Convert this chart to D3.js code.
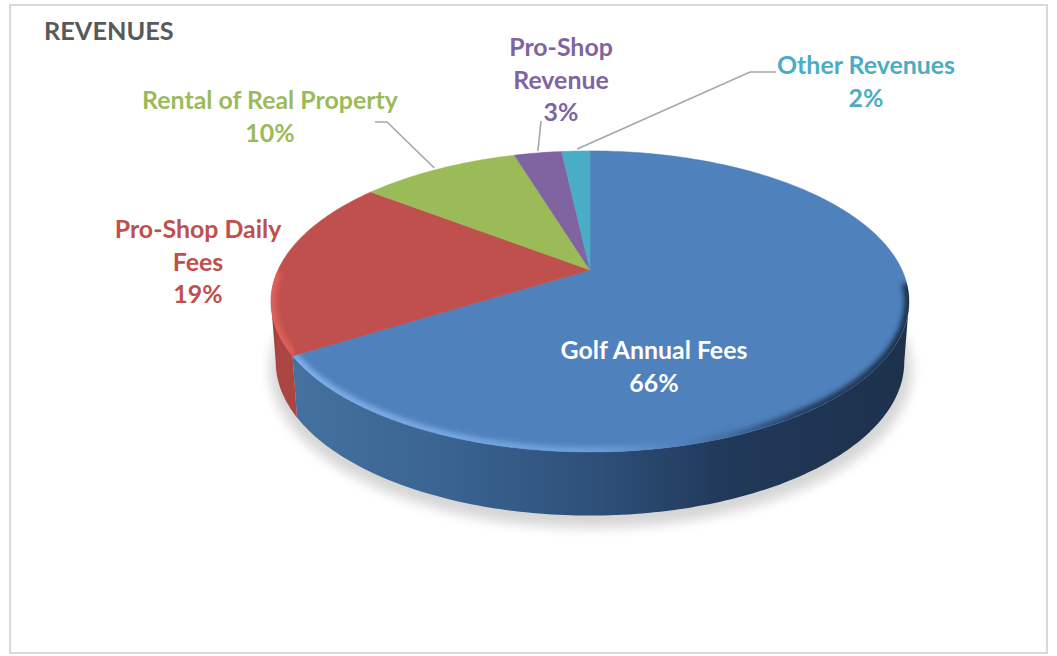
<!DOCTYPE html>
<html>
<head>
<meta charset="utf-8">
<script src="https://cdnjs.cloudflare.com/ajax/libs/d3/7.8.5/d3.min.js"></script>
<style>
  html, body { margin: 0; padding: 0; background: #fff; }
  svg { display: block; }
  text { font-family: Lato, "Open Sans", sans-serif; font-weight: 700; }
</style>
</head>
<body>
<div id="chart"></div>
<script>
// values
var categories = ['Golf Annual Fees', 'Pro-Shop Daily Fees', 'Rental of Real Property', 'Pro-Shop Revenue', 'Other Revenues'];
var values = [66.1, 19.35, 9.85, 2.95, 1.75];
var percentLabels = ['66%', '19%', '10%', '3%', '2%'];
var labelLines = [['Golf Annual Fees'], ['Pro-Shop Daily', 'Fees'], ['Rental of Real Property'], ['Pro-Shop', 'Revenue'], ['Other Revenues']];
var colors = ['#4f81bd', '#c0504d', '#9bbb59', '#8064a2', '#4bacc6'];
var labelColors = ['#ffffff', '#c0504d', '#9bbb59', '#8064a2', '#4bacc6'];

var width = 1057;
var height = 656;

var svg = d3.select('#chart').append('svg')
  .attr('width', width)
  .attr('height', height);

var defs = svg.append('defs');

// horizontal gradients for the side wall and the bevel
function hGradient(id, x1, x2, stops) {
  var g = defs.append('linearGradient').attr('id', id)
    .attr('gradientUnits', 'userSpaceOnUse')
    .attr('x1', x1).attr('x2', x2).attr('y1', 0).attr('y2', 0);
  stops.forEach(function(s) {
    g.append('stop').attr('offset', s[0]).attr('stop-color', s[1]);
  });
}
hGradient('wall0', 298, 905, [[0, '#44719f'], [0.25, '#3a6391'], [0.5, '#2d4f78'], [0.7, '#21395a'], [1, '#1d314c']]);
hGradient('wall1', 272, 300, [[0, '#9c3f3c'], [0.25, '#ad4643'], [1, '#a94542']]);
hGradient('bevel0', 298, 908, [[0, '#7fb0ea'], [0.5, '#6c9ed8'], [0.63, '#4f81bd'], [0.72, '#3f689c'], [0.82, '#243d5f'], [1, '#1d314c']]);
hGradient('bevel1', 270, 300, [[0, '#e0605a'], [1, '#dd5e58']]);

defs.append('filter').attr('id', 'soft').attr('x', '-10%').attr('y', '-10%').attr('width', '120%').attr('height', '120%')
  .append('feGaussianBlur').attr('stdDeviation', 2.5);
defs.append('filter').attr('id', 'shadow').attr('x', '-10%').attr('y', '-20%').attr('width', '120%').attr('height', '140%')
  .append('feGaussianBlur').attr('stdDeviation', 6);

// tilted disc: a pie angle goes through a perspective map, so the hub sits above the ellipse middle
var hubX = 590, hubY = 270;
var tilt = -0.209;
function topRim(a) {
  var u = Math.sin(a), v = -Math.cos(a), w = 1 + tilt * v;
  return [hubX + 312 * u / w, hubY + 144 * v / w];
}
function bottomRim(a) {
  var p = topRim(a);
  return [hubX + (p[0] - hubX) * 0.985, 362 + (p[1] - 301.5) * 1.02];
}
function sample(a0, a1) {
  var n = Math.max(2, Math.ceil((a1 - a0) * 60));
  return d3.range(n + 1).map(function(i) { return a0 + (a1 - a0) * i / n; });
}

var pie = d3.pie().sort(null);
var slices = pie(values);
var line = d3.line();

// the front of the disc runs between these two angles
var frontStart = Math.acos(tilt);
var frontEnd = 2 * Math.PI - frontStart;

// frame
svg.append('rect')
  .attr('x', 10).attr('y', 5).attr('width', 1037).attr('height', 648)
  .attr('fill', '#fff').attr('stroke', '#d9d9d9').attr('stroke-width', 2);

// ground shadow
svg.append('ellipse')
  .attr('cx', 591).attr('cy', 370).attr('rx', 321).attr('ry', 158)
  .attr('fill', '#000').attr('opacity', 0.16)
  .attr('filter', 'url(#shadow)');

// side walls, front part only
svg.append('g').selectAll('path')
  .data(slices.slice(0, 2))
  .enter().append('path')
  .attr('fill', function(d, i) { return 'url(#wall' + i + ')'; })
  .attr('d', function(d) {
    var as = sample(Math.max(d.startAngle, frontStart), Math.min(d.endAngle, frontEnd));
    return line(as.map(topRim).concat(as.slice().reverse().map(bottomRim))) + 'Z';
  });

// top faces
function facePath(d) {
  return line([[hubX, hubY]].concat(sample(d.startAngle, d.endAngle).map(topRim))) + 'Z';
}
svg.append('g').selectAll('path')
  .data(slices)
  .enter().append('path')
  .attr('d', facePath)
  .attr('fill', function(d, i) { return colors[i]; })
  .attr('stroke', function(d, i) { return colors[i]; })
  .attr('stroke-width', 0.5);

// rim bevel on the two big slices, kept inside the face
var bevelArcs = [[frontStart - 0.12, slices[0].endAngle], [slices[1].startAngle, frontEnd + 0.2]];
slices.slice(0, 2).forEach(function(d, i) {
  defs.append('clipPath').attr('id', 'face' + i).append('path').attr('d', facePath(d));
  svg.append('g').attr('clip-path', 'url(#face' + i + ')')
    .append('path')
    .attr('d', line(sample(bevelArcs[i][0], bevelArcs[i][1]).map(topRim)))
    .attr('fill', 'none')
    .attr('stroke', 'url(#bevel' + i + ')')
    .attr('stroke-width', 10)
    .attr('filter', 'url(#soft)');
});

// leader lines, inner end sits on the rim
function rimAt(i, t) {
  var d = slices[i];
  return topRim(d.startAngle + (d.endAngle - d.startAngle) * t);
}
var leaders = [
  { i: 2, pts: [[375, 122], [387, 122]], t: 0.47 },
  { i: 3, pts: [[541, 121]], t: 0.5 },
  { i: 4, pts: [[776, 72], [750, 72]], t: 0.55 }
];
svg.append('g').selectAll('path')
  .data(leaders)
  .enter().append('path')
  .attr('d', function(d) {
    var end = rimAt(d.i, d.t);
    return line(d.pts.concat([[end[0], end[1] - 2]]));
  })
  .attr('fill', 'none')
  .attr('stroke', '#a6a6a6')
  .attr('stroke-width', 1.6);

// labels
var labelPos = [[654, 359], [198, 238], [270, 109], [561, 56], [866, 74]];
var lineGap = 32.5;
var labels = svg.append('g').selectAll('text')
  .data(categories)
  .enter().append('text')
  .attr('text-anchor', 'middle')
  .attr('font-size', 24.9)
  .attr('fill', function(d, i) { return labelColors[i]; })
  .attr('transform', function(d, i) { return 'translate(' + labelPos[i][0] + ',' + labelPos[i][1] + ')'; });

labels.each(function(d, i) {
  var rows = labelLines[i].concat([percentLabels[i]]);
  var el = d3.select(this);
  rows.forEach(function(r, j) {
    el.append('tspan').attr('x', 0).attr('y', j * lineGap).text(r);
  });
});

// title
svg.append('text')
  .attr('x', 44).attr('y', 40)
  .attr('font-size', 25.3)
  .attr('fill', '#595959')
  .text('REVENUES');
</script>
</body>
</html>
